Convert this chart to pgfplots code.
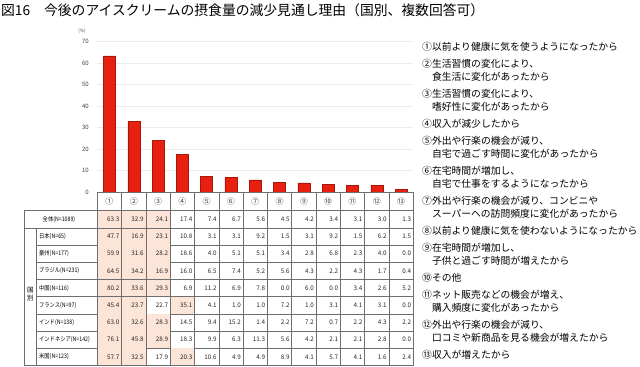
\documentclass[border=0pt]{standalone}
\usepackage{pgfplots}
\pgfplotsset{compat=1.18}
\usepackage{fontspec}
\setmainfont{Noto Sans CJK JP}
\definecolor{barred}{HTML}{E8200F}
\definecolor{bardark}{HTML}{A8150A}
\definecolor{peach}{HTML}{FCE4D6}
\definecolor{tline}{HTML}{6E6E6E}
\begin{document}
\begin{tikzpicture}
\begin{scope}[x=1bp,y=1bp]
\path[use as bounding box] (0,0) rectangle (640,366);
% title
\node[anchor=west, inner sep=0, font=\fontsize{13.8bp}{15bp}\selectfont] at (1,356) {図16　今後のアイスクリームの摂食量の減少見通し理由（国別、複数回答可）};
\node[font=\fontsize{4.5bp}{5bp}\selectfont, text=black!70] at (82,335) {(\%)};
\end{scope}
\begin{axis}[
  at={(97.3bp,174bp)}, anchor=south west,
  scale only axis, width=315.9bp, height=150.5bp,
  xmin=0.5, xmax=13.5, ymin=0, ymax=70,
  ytick={0,10,...,70}, xtick=\empty,
  ymajorgrids, grid style={draw=gray!15, line width=0.6bp},
  axis line style={draw=none},
  major tick length=0pt,
  /pgf/number format/assume math mode=true,
  yticklabel style={font=\fontsize{6bp}{7bp}\selectfont, text=black!75, xshift=-5bp},
  ybar, bar width=12bp,
  clip=false,
]
\addplot[fill=barred, draw=bardark, line width=0.5bp] coordinates {
 (1,63.3) (2,32.9) (3,24.1) (4,17.4) (5,7.4) (6,6.7) (7,5.6)
 (8,4.5) (9,4.2) (10,3.4) (11,3.1) (12,3.0) (13,1.3)};
\end{axis}
\begin{scope}[x=1bp,y=1bp]
% ---- table ----
\def\xz{97.3}
\def\cw{24.3}
\def\rh{17.2}
\foreach \lab/\vals/\hl [count=\r from 0] in {
 {全体(N=1089)}/{63.3,32.9,24.1,17.4,7.4,6.7,5.6,4.5,4.2,3.4,3.1,3.0,1.3}/{1,2,3},
 {日本(N=65)}/{47.7,16.9,23.1,10.8,3.1,3.1,9.2,1.5,3.1,9.2,1.5,6.2,1.5}/{1,2,3},
 {豪州(N=177)}/{59.9,31.6,28.2,18.6,4.0,5.1,5.1,3.4,2.8,6.8,2.3,4.0,0.0}/{1,2,3},
 {ブラジル(N=231)}/{64.5,34.2,16.9,16.0,6.5,7.4,5.2,5.6,4.3,2.2,4.3,1.7,0.4}/{1,2,3},
 {中国(N=116)}/{80.2,33.6,29.3,6.9,11.2,6.9,7.8,0.0,6.0,0.0,3.4,2.6,5.2}/{1,2,3},
 {フランス(N=97)}/{45.4,23.7,22.7,35.1,4.1,1.0,1.0,7.2,1.0,3.1,4.1,3.1,0.0}/{1,2,4},
 {インド(N=138)}/{63.0,32.6,28.3,14.5,9.4,15.2,1.4,2.2,7.2,0.7,2.2,4.3,2.2}/{1,2,3},
 {インドネシア(N=142)}/{76.1,45.8,28.9,18.3,9.9,6.3,11.3,5.6,4.2,2.1,2.1,2.8,0.0}/{1,2,3},
 {米国(N=123)}/{57.7,32.5,17.9,20.3,10.6,4.9,4.9,8.9,4.1,5.7,4.1,1.6,2.4}/{1,2,4}} {
  \pgfmathsetmacro\yt{155.3-\rh*\r}
  \pgfmathsetmacro\yb{155.3-\rh*(\r+1)}
  \pgfmathsetmacro\yc{155.3-\rh*(\r+0.5)}
  \foreach \c in \hl {
    \fill[peach] ({\xz+(\c-1)*\cw},\yt) rectangle ({\xz+\c*\cw},\yb);
  }
  \foreach \v [count=\c] in \vals {
    \node[anchor=east, inner sep=0, font=\fontsize{6.3bp}{7bp}\selectfont, text=black!85] at ({\xz+\c*\cw-2},\yc) {\v};
  }
  \ifnum\r=0
    \node[inner sep=0, font=\fontsize{6.2bp}{7bp}\selectfont] at (59,\yc) {\scalebox{0.85}[1]{\lab}};
  \else
    \node[anchor=west, inner sep=0, font=\fontsize{6.2bp}{7bp}\selectfont] at (39,\yc) {\scalebox{0.85}[1]{\lab}};
    \draw[tline, line width=0.5bp] (36.7,\yb) -- (413.2,\yb);
  \fi
}
% header
\foreach \s [count=\c] in {①,②,③,④,⑤,⑥,⑦,⑧,⑨,⑩,⑪,⑫,⑬} {
  \node[font=\fontsize{8bp}{9bp}\selectfont, text=black!75] at ({\xz+(\c-0.5)*\cw},164.65) {\s};
}
% grid lines
\begin{scope}[tline, line width=0.5bp]
\draw (97.3,174) -- (413.2,174);
\draw (24,155.3) -- (413.2,155.3);
\draw (24,138.1) -- (413.2,138.1);
\draw (24,0.5) -- (413.2,0.5);
\draw (24,155.3) -- (24,0.5);
\draw (36.7,138.1) -- (36.7,0.5);
\foreach \c in {0,...,13} { \draw ({\xz+\c*\cw},174) -- ({\xz+\c*\cw},0.5); }
\end{scope}
\node[align=center, inner sep=0, font=\fontsize{6.5bp}{8bp}\selectfont] at (30.3,72) {国\\別};
% ---- legend ----
\begin{scope}[every node/.style={anchor=west, inner sep=0, font=\fontsize{9.8bp}{11bp}\selectfont}]
\node at (422,{366-47}) {①以前より健康に気を使うようになったから};
\node at (422,{366-64}) {②生活習慣の変化により、};
\node at (422,{366-77}) {\phantom{②}食生活に変化があったから};
\node at (422,{366-94}) {③生活習慣の変化により、};
\node at (422,{366-107}) {\phantom{③}嗜好性に変化があったから};
\node at (422,{366-124}) {④収入が減少したから};
\node at (422,{366-141}) {⑤外出や行楽の機会が減り、};
\node at (422,{366-154}) {\phantom{⑤}自宅で過ごす時間に変化があったから};
\node at (422,{366-171}) {⑥在宅時間が増加し、};
\node at (422,{366-184}) {\phantom{⑥}自宅で仕事をするようになったから};
\node at (422,{366-201}) {⑦外出や行楽の機会が減り、コンビニや};
\node at (422,{366-214}) {\phantom{⑦}スーパーへの訪問頻度に変化があったから};
\node at (422,{366-231}) {⑧以前より健康に気を使わないようになったから};
\node at (422,{366-248}) {⑨在宅時間が増加し、};
\node at (422,{366-261}) {\phantom{⑨}子供と過ごす時間が増えたから};
\node at (422,{366-278}) {⑩その他};
\node at (422,{366-295}) {⑪ネット販売などの機会が増え、};
\node at (422,{366-308}) {\phantom{⑪}購入頻度に変化があったから};
\node at (422,{366-325}) {⑫外出や行楽の機会が減り、};
\node at (422,{366-338}) {\phantom{⑫}口コミや新商品を見る機会が増えたから};
\node at (422,{366-355}) {⑬収入が増えたから};
\end{scope}
\end{scope}
\end{tikzpicture}
\end{document}
